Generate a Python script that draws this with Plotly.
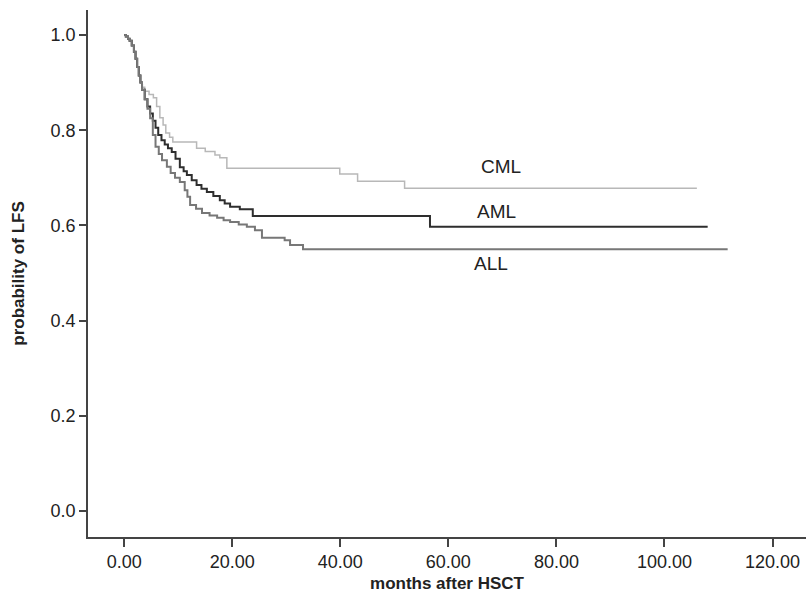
import plotly.graph_objects as go

# Kaplan-Meier step data (months, probability)
cml_t = [0, 0.3, 0.7, 1.0, 1.4, 1.8, 2.1, 2.4, 2.7, 3.0, 3.3, 3.8, 4.6, 5.4, 6.0, 6.6, 7.2, 7.7, 8.4, 9.0,
         13.4, 15.0, 16.8, 17.7, 19.0, 39.9, 43.2, 51.9, 106.0]
cml_s = [1.0, 0.997, 0.992, 0.988, 0.978, 0.965, 0.95, 0.933, 0.915, 0.9, 0.89, 0.882, 0.875, 0.868, 0.85, 0.826,
         0.811, 0.794, 0.785, 0.775, 0.762, 0.755, 0.748, 0.742, 0.72, 0.708, 0.693, 0.678, 0.678]

aml_t = [0, 0.3, 0.7, 1.0, 1.4, 1.8, 2.1, 2.4, 2.7, 3.0, 3.3, 3.8, 4.3, 4.8, 5.3, 5.8, 6.3, 6.9, 7.5, 8.1, 8.8,
         9.5, 10.3, 11.0, 11.6, 12.5, 13.4, 14.3, 15.3, 16.5, 17.7, 18.6, 19.6, 21.4, 23.8, 56.6, 108.0]
aml_s = [1.0, 0.997, 0.992, 0.988, 0.978, 0.965, 0.95, 0.933, 0.915, 0.9, 0.885, 0.865, 0.85, 0.835, 0.82, 0.805,
         0.79, 0.779, 0.77, 0.762, 0.754, 0.74, 0.722, 0.714, 0.706, 0.695, 0.685, 0.677, 0.67, 0.662, 0.653,
         0.646, 0.639, 0.634, 0.62, 0.597, 0.597]

all_t = [0, 0.3, 0.7, 1.0, 1.4, 1.8, 2.1, 2.4, 2.7, 3.0, 3.3, 3.8, 4.3, 4.8, 5.3, 5.8, 6.4, 7.0, 7.9, 8.6, 9.4,
         10.3, 11.2, 11.7, 12.2, 13.3, 14.4, 15.8, 17.2, 18.4, 19.6, 21.2, 22.7, 24.2, 25.5, 29.7, 30.7, 33.1, 111.7]
all_s = [1.0, 0.997, 0.992, 0.988, 0.978, 0.965, 0.95, 0.933, 0.915, 0.9, 0.885, 0.865, 0.845, 0.825, 0.79, 0.765,
         0.75, 0.737, 0.723, 0.71, 0.7, 0.691, 0.674, 0.66, 0.643, 0.635, 0.626, 0.621, 0.616, 0.611, 0.607, 0.602,
         0.597, 0.59, 0.574, 0.569, 0.559, 0.55, 0.55]

labels = ["CML", "AML", "ALL"]
label_x = [69.7, 68.9, 67.9]
label_y = [0.723, 0.630, 0.521]

x_ticks = [0, 20, 40, 60, 80, 100, 120]
y_ticks = [0.0, 0.2, 0.4, 0.6, 0.8, 1.0]

series = [
    (cml_t, cml_s, "#b8b8b8", 1.5),
    (aml_t, aml_s, "#2e2e2e", 2.0),
    (all_t, all_s, "#777777", 2.0),
]

FONT = "Liberation Sans, Arial, sans-serif"

fig = go.Figure()
for (t, s, c, w), name in zip(series, labels):
    fig.add_trace(go.Scatter(x=t, y=s, mode="lines", line=dict(shape="hv", color=c, width=w),
                             name=name, showlegend=False))

for name, lx, ly in zip(labels, label_x, label_y):
    fig.add_annotation(x=lx, y=ly, text=name, showarrow=False,
                       font=dict(family=FONT, size=19, color="#222"))

fig.update_layout(
    width=806, height=601,
    margin=dict(l=88, r=0, t=10, b=64),
    paper_bgcolor="white", plot_bgcolor="white",
    font=dict(family=FONT, size=18, color="#222"),
)
fig.update_xaxes(range=[-6.7, 126.2], tickvals=x_ticks, tickformat=".2f",
                 tickfont=dict(size=18),
                 showline=True, linecolor="#444", linewidth=1.5, ticks="outside", ticklen=8,
                 tickcolor="#444", tickwidth=1.5, showgrid=False, zeroline=False,
                 title=dict(text="<b>months after HSCT</b>", font=dict(size=17), standoff=6))
fig.update_yaxes(range=[-0.0546, 1.0525], tickvals=y_ticks, tickformat=".1f",
                 tickfont=dict(size=18),
                 showline=True, linecolor="#444", linewidth=1.5, ticks="outside", ticklen=7,
                 tickcolor="#444", tickwidth=1.5, showgrid=False, zeroline=False,
                 title=dict(text="<b>probability of LFS</b>", font=dict(size=17), standoff=22))

fig.write_html("out.html")
